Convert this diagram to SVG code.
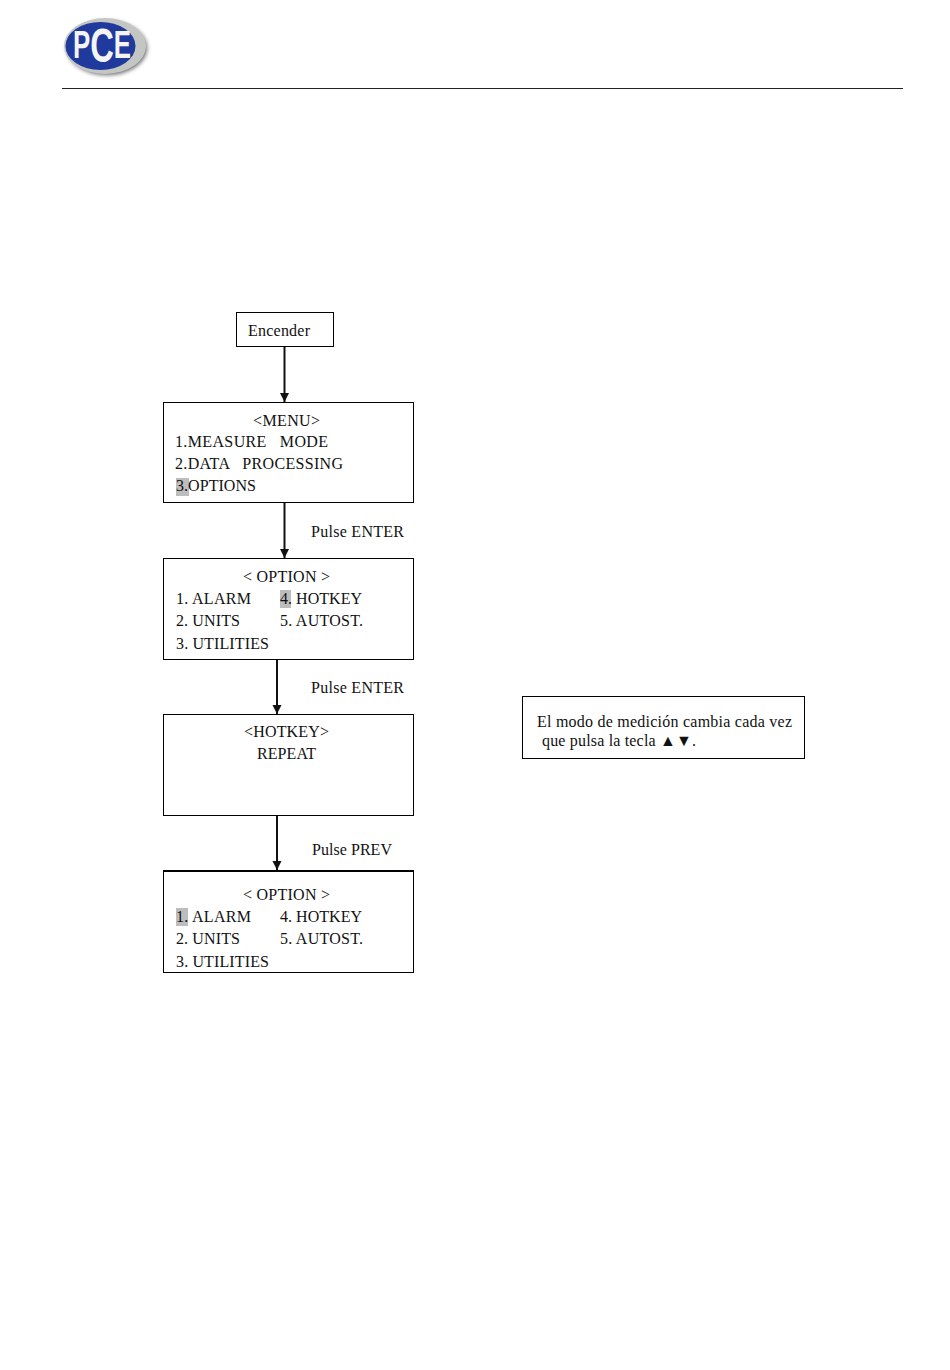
<svg xmlns="http://www.w3.org/2000/svg" width="950" height="1370" viewBox="0 0 950 1370">
<style>
text{font-family:"Liberation Serif","Times New Roman",serif;font-size:16px;fill:#111}
.box{fill:#fff;stroke:#000;stroke-width:1}
.hl{fill:#bdbdbd}
.conn{stroke:#111;stroke-width:2;fill:none;marker-end:url(#arr)}
</style>
<defs>
<marker id="arr" markerUnits="userSpaceOnUse" markerWidth="10" markerHeight="10" refX="9" refY="5" orient="auto"><path d="M0 0.5L9 5L0 9.5Z" fill="#111"/></marker>
<filter id="blur" x="-20%" y="-20%" width="140%" height="140%"><feGaussianBlur stdDeviation="2"/></filter>
</defs>
<rect width="950" height="1370" fill="#fff"/>
<g id="logo">
<ellipse cx="107" cy="48" rx="40" ry="27" fill="#666" filter="url(#blur)"/>
<ellipse cx="105" cy="46" rx="41" ry="28" fill="#c4c6c4"/>
<ellipse cx="100.500" cy="46" rx="35" ry="24" fill="#1f3a9c"/>
<text x="73" y="58" style="font-family:'Liberation Sans',sans-serif;font-weight:bold;font-size:38px;fill:#f4f4f4" textLength="58" lengthAdjust="spacingAndGlyphs">P<tspan dy="4" font-size="48">C</tspan><tspan dy="-4">E</tspan></text>
<text x="100" y="46" style="font-family:'Liberation Sans',sans-serif;font-weight:bold;font-size:5px;fill:#1f3a9c">Inst.</text>
</g>
<line id="header-rule" x1="62" y1="88.500" x2="903" y2="88.500" stroke="#222" stroke-width="1"/>
<g id="connectors">
<line class="conn" x1="284.500" y1="347" x2="284.500" y2="402"/>
<line class="conn" x1="284.500" y1="503" x2="284.500" y2="558"/>
<line class="conn" x1="277" y1="660" x2="277" y2="714"/>
<line class="conn" x1="277" y1="816" x2="277" y2="870"/>
</g>
<g id="node-encender">
<rect class="box" x="236.500" y="312.500" width="97" height="34"/>
<text x="248" y="336" textLength="62">Encender</text>
</g>
<g id="node-menu">
<rect class="box" x="163.500" y="402.500" width="250" height="100"/>
<rect class="hl" x="176" y="478" width="13" height="18"/>
<text x="253" y="426" textLength="67">&lt;MENU&gt;</text>
<text x="175" y="447" textLength="153" xml:space="preserve">1.MEASURE   MODE</text>
<text x="175" y="469" textLength="168" xml:space="preserve">2.DATA   PROCESSING</text>
<text x="176" y="491" textLength="80">3.OPTIONS</text>
</g>
<g id="label-enter-1"><text x="311" y="537" textLength="93">Pulse ENTER</text></g>
<g id="node-option-1">
<rect class="box" x="163.500" y="558.500" width="250" height="101"/>
<rect class="hl" x="280" y="590" width="11" height="18"/>
<text x="243" y="582" textLength="87">&lt; OPTION &gt;</text>
<text x="176" y="604" textLength="75">1. ALARM</text>
<text x="280" y="604" textLength="82">4. HOTKEY</text>
<text x="176" y="626" textLength="64">2. UNITS</text>
<text x="280" y="626" textLength="83">5. AUTOST.</text>
<text x="176" y="649" textLength="93">3. UTILITIES</text>
</g>
<g id="label-enter-2"><text x="311" y="693" textLength="93">Pulse ENTER</text></g>
<g id="node-hotkey">
<rect class="box" x="163.500" y="714.500" width="250" height="101"/>
<text x="244" y="737" textLength="85">&lt;HOTKEY&gt;</text>
<text x="257" y="759" textLength="59">REPEAT</text>
</g>
<g id="label-prev"><text x="312" y="855" textLength="80">Pulse PREV</text></g>
<g id="node-option-2">
<rect class="box" x="163.500" y="870.500" width="250" height="102"/>
<line x1="163" y1="871.500" x2="414" y2="871.500" stroke="#000" stroke-width="1"/>
<rect class="hl" x="176" y="908" width="12" height="18"/>
<text x="243" y="900" textLength="87">&lt; OPTION &gt;</text>
<text x="176" y="922" textLength="75">1. ALARM</text>
<text x="280" y="922" textLength="82">4. HOTKEY</text>
<text x="176" y="944" textLength="64">2. UNITS</text>
<text x="280" y="944" textLength="83">5. AUTOST.</text>
<text x="176" y="967" textLength="93">3. UTILITIES</text>
</g>
<g id="node-note">
<rect class="box" x="522.500" y="696.500" width="282" height="62"/>
<text x="537" y="727" textLength="255">El modo de medición cambia cada vez</text>
<text x="542" y="746" textLength="154">que pulsa la tecla ▲▼.</text>
</g>
</svg>
